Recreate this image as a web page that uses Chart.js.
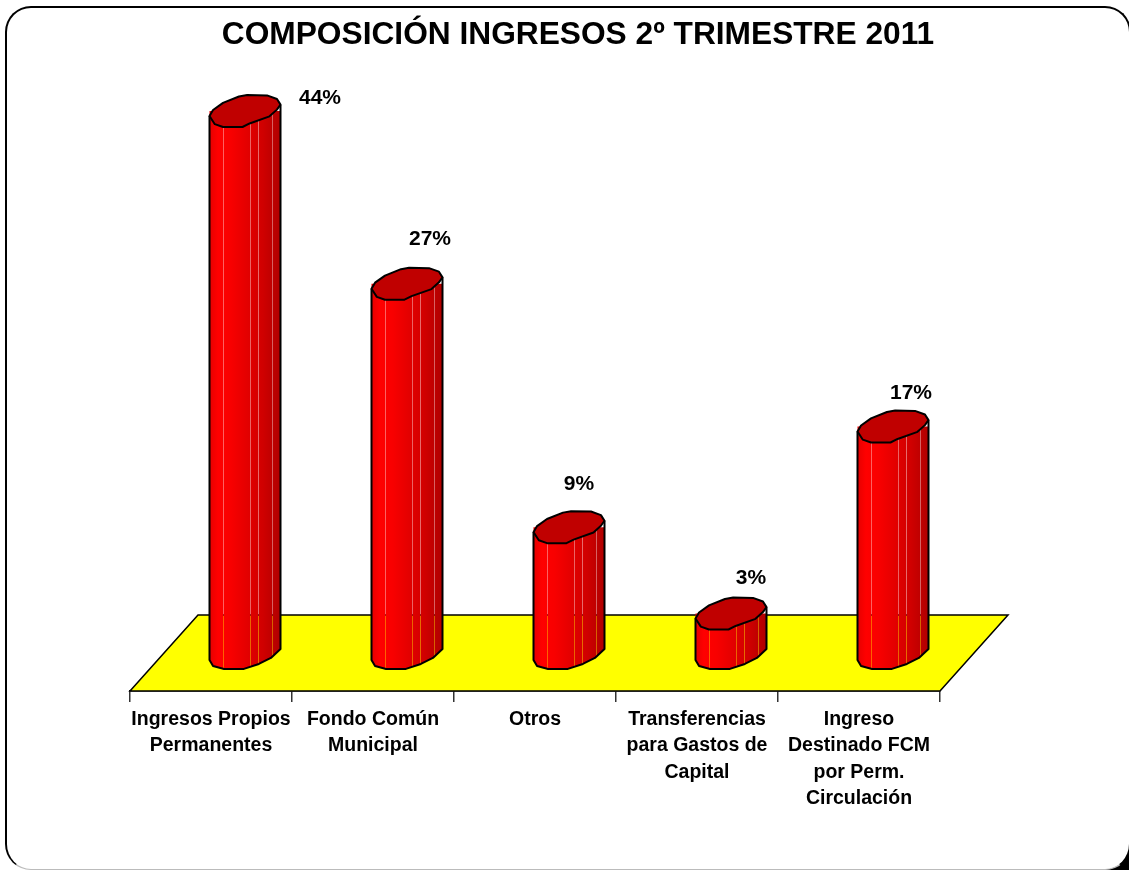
<!DOCTYPE html>
<html>
<head>
<meta charset="utf-8">
<title>Composición ingresos</title>
<script src="https://cdn.jsdelivr.net/npm/chart.js@4"></script>
<style>
  html, body { margin: 0; padding: 0; background: #fff; overflow: hidden; }
  #wrap { position: relative; width: 1129px; height: 870px; overflow: hidden; }
  #esquina { position: absolute; right: 0; bottom: 0; width: 24px; height: 24px; background: #000; }
  #frame { position: absolute; left: 5px; top: 6px; width: 1126px; height: 864px; background: #fff;
           border: 2px solid #000; border-bottom: 1px solid #bbb;
           border-radius: 26px; box-sizing: border-box; }
  canvas { position: absolute; left: 0; top: 0; }
</style>
</head>
<body>
<div id="wrap">
  <div id="esquina"></div>
  <div id="frame"></div>
  <canvas id="ingresosChart" width="1129" height="870"></canvas>
</div>
<script>
const tituloGrafico = 'COMPOSICIÓN INGRESOS 2º TRIMESTRE 2011';
const categorias = [
    ['Ingresos Propios', 'Permanentes'],
    ['Fondo Común', 'Municipal'],
    ['Otros'],
    ['Transferencias', 'para Gastos de', 'Capital'],
    ['Ingreso', 'Destinado FCM', 'por Perm.', 'Circulación']
];
const porcentajes = [44, 27.3, 9.4, 3.05, 16.8];
const ejeMaximo = 40;   // el original corta la primera columna aquí

// fondo de la perspectiva
const fondoX = 68, fondoY = 76;
// ajuste manual de las etiquetas, relativo a cada columna
const ajusteEtiquetas = [[75, 32], [23, 0], [10, 2], [20, 10], [18, 12]];

// perfil de la tapa, relativo al centro y al semiancho de la columna
const perfilTapa = [
    [-1, 0.14], [-0.9, -0.03], [-0.62, -0.23], [-0.17, -0.41], [0.06, -0.45],
    [0.62, -0.44], [0.9, -0.34], [1, -0.18], [0.9, -0.04], [0.69, 0.15],
    [0.13, 0.35], [-0.07, 0.45], [-0.62, 0.45], [-0.85, 0.37]
];
// borde inferior del cuerpo, igual referencia
const perfilBase = [
    [-1, 0.17], [-0.9, 0.34], [-0.59, 0.42], [-0.03, 0.42],
    [0.39, 0.28], [0.73, 0.11], [1, -0.14]
];

function bordeBase(c) {
    for (let i = 0; i < perfilBase.length - 1; i++) {
        const [c0, y0] = perfilBase[i], [c1, y1] = perfilBase[i + 1];
        if (c <= c1) return y0 + (y1 - y0) * (c - c0) / (c1 - c0);
    }
    return perfilBase[perfilBase.length - 1][1];
}

// columna cilíndrica: se reemplaza el dibujo de la barra
Chart.BarElement.prototype.draw = function (ctx) {
    const area = Chart.getChart(ctx.canvas).chartArea;
    const cx = this.x + fondoX / 2;
    const a = this.width / 2;
    const yTop = Math.max(this.y, area.top) - fondoY / 2 + 2;
    const yBase = this.base - fondoY / 2 + 1;

    const grad = ctx.createLinearGradient(cx - a, 0, cx + a, 0);
    grad.addColorStop(0, '#e60000');
    grad.addColorStop(0.12, '#ff0000');
    grad.addColorStop(0.3, '#f80000');
    grad.addColorStop(0.5, '#e60000');
    grad.addColorStop(0.75, '#d00000');
    grad.addColorStop(1, '#b00000');

    // tiras verticales; la costura entre ellas deja pasar algo de fondo
    const cortes = [0, 0.2, 0.58, 0.69, 0.89, 1];
    ctx.save();
    ctx.fillStyle = grad;
    for (let i = 0; i < cortes.length - 1; i++) {
        const x0 = cx - a + cortes[i] * 2 * a + (i ? 0.15 : 0);
        const x1 = cx - a + cortes[i + 1] * 2 * a - (i < cortes.length - 2 ? 0.15 : 0);
        ctx.beginPath();
        ctx.moveTo(x0, yTop);
        ctx.lineTo(x1, yTop);
        for (let s = 0; s <= 6; s++) {
            const x = x1 + (x0 - x1) * s / 6;
            ctx.lineTo(x, yBase + a * bordeBase((x - cx) / a));
        }
        ctx.closePath();
        ctx.fill();
    }

    // contorno del cuerpo
    ctx.strokeStyle = '#000';
    ctx.lineWidth = 2;
    ctx.lineJoin = 'round';
    ctx.beginPath();
    ctx.moveTo(cx - a, yTop + a * perfilTapa[0][1]);
    perfilBase.forEach(([c, y]) => ctx.lineTo(cx + a * c, yBase + a * y));
    ctx.lineTo(cx + a, yTop + a * perfilTapa[7][1]);
    ctx.stroke();

    // tapa
    ctx.beginPath();
    perfilTapa.forEach(([c, y], i) => {
        if (i === 0) ctx.moveTo(cx + a * c, yTop + a * y);
        else ctx.lineTo(cx + a * c, yTop + a * y);
    });
    ctx.closePath();
    ctx.fillStyle = '#c00000';
    ctx.fill();
    ctx.stroke();
    ctx.restore();
};

const pisoAmarillo = {
    id: 'pisoAmarillo',
    beforeDatasetsDraw(chart) {
        const { ctx, chartArea } = chart;
        const { left, right, bottom } = chartArea;
        ctx.save();
        ctx.beginPath();
        ctx.moveTo(left, bottom);
        ctx.lineTo(left + fondoX, bottom - fondoY);
        ctx.lineTo(right + fondoX, bottom - fondoY);
        ctx.lineTo(right, bottom);
        ctx.closePath();
        ctx.fillStyle = '#ffff00';
        ctx.fill();
        ctx.strokeStyle = '#000';
        ctx.lineWidth = 1.5;
        ctx.stroke();
        ctx.restore();
    }
};

const etiquetasValor = {
    id: 'etiquetasValor',
    afterDatasetsDraw(chart) {
        const { ctx, chartArea } = chart;
        const barras = chart.getDatasetMeta(0).data;
        ctx.save();
        ctx.font = 'bold 21px "Liberation Sans", Arial, sans-serif';
        ctx.fillStyle = '#000';
        ctx.textAlign = 'center';
        ctx.textBaseline = 'middle';
        barras.forEach((barra, i) => {
            const yTop = Math.max(barra.y, chartArea.top) - fondoY / 2 - 1;
            const [dx, dy] = ajusteEtiquetas[i];
            ctx.fillText(Math.round(porcentajes[i]) + '%', barra.x + fondoX / 2 + dx, yTop - 42 + dy);
        });
        ctx.restore();
    }
};

const ingresosCtx = document.getElementById('ingresosChart').getContext('2d');
const ingresosChart = new Chart(ingresosCtx, {
    type: 'bar',
    data: {
        labels: categorias,
        datasets: [{
            label: 'Ingresos',
            data: porcentajes,
            backgroundColor: '#ff0000',
            borderColor: '#000000',
            barThickness: 71,
            clip: false
        }]
    },
    options: {
        responsive: false,
        animation: false,
        layout: { padding: { left: 130, right: 103 } },
        plugins: {
            legend: { display: false },
            tooltip: { enabled: false },
            title: {
                display: true,
                text: tituloGrafico,
                color: '#000',
                font: { family: '"Liberation Sans", Arial, sans-serif', size: 31.7, weight: 'bold' },
                padding: { top: 16, bottom: 93 }
            }
        },
        scales: {
            x: {
                grid: { drawOnChartArea: false, offset: true, color: '#333', tickLength: 11, lineWidth: 1.5 },
                border: { color: '#000', width: 1.5 },
                ticks: {
                    color: '#000',
                    autoSkip: false,
                    maxRotation: 0,
                    padding: 4,
                    font: { family: '"Liberation Sans", Arial, sans-serif', size: 19.5, weight: 'bold', lineHeight: 1.36 }
                },
                afterFit(scale) { scale.height = 179; }
            },
            y: {
                position: 'right',
                min: 0,
                max: ejeMaximo,
                grid: { display: false },
                border: { display: false },
                ticks: { display: false },
                afterFit(scale) { scale.width = 86; }
            }
        }
    },
    plugins: [pisoAmarillo, etiquetasValor]
});
</script>
</body>
</html>
